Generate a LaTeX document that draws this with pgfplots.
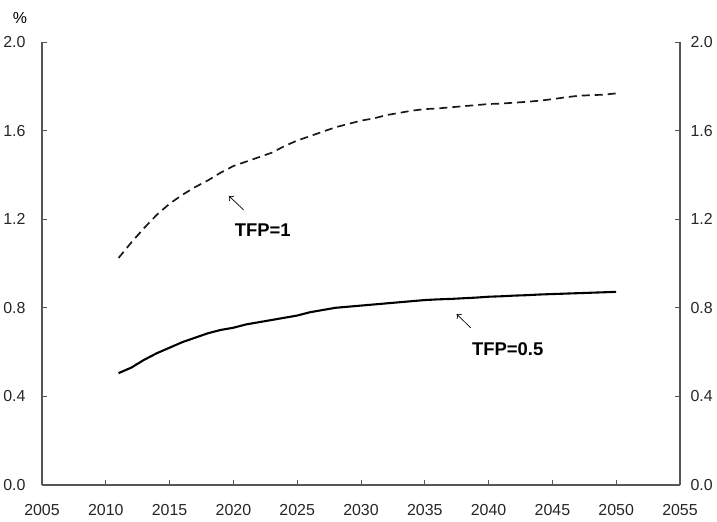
\documentclass[border=0pt]{standalone}
\usepackage{fontspec}
\setmainfont{Liberation Sans}
\usepackage{pgfplots}
\pgfplotsset{compat=1.18}
\usetikzlibrary{arrows.meta}
\definecolor{axgray}{RGB}{85,85,85}
\begin{document}
\begin{tikzpicture}
\path[use as bounding box] (-42bp,-37bp) rectangle (675bp,485bp);
\pgfplotsset{
  common/.style={
    width=638bp, height=443bp, scale only axis,
    xmin=2005, xmax=2055, ymin=0, ymax=2,
    ytick={0,0.4,0.8,1.2,1.6,2.0},
    tick align=inside, major tick length=5bp,
    axis line style={axgray, line width=1.3pt},
    tick style={axgray, line width=0.8pt},
    /pgf/number format/assume math mode=true,
    yticklabel={\pgfmathprintnumber[fixed,fixed zerofill,precision=1]{\tick}},
    tick label style={font=\fontsize{16}{18}\selectfont, text=black!85},
  }
}
\begin{axis}[common,
  axis x line*=bottom, axis y line*=left,
  xtick={2005,2010,...,2055},
  xticklabel={\pgfmathprintnumber[1000 sep={}]{\tick}},
  xticklabel style={yshift=-16bp},
  yticklabel style={xshift=-13bp},
  clip=false]
\addplot[black!90, line width=1.7pt, dash pattern=on 8bp off 5bp] coordinates {
(2011,1.025)(2012,1.095)(2013,1.16)(2014,1.22)(2015,1.27)(2016,1.31)(2017,1.345)(2018,1.375)(2019,1.41)(2020,1.44)
(2021,1.46)(2022,1.48)(2023,1.50)(2024,1.53)(2025,1.555)(2026,1.575)(2027,1.595)(2028,1.615)(2029,1.63)(2030,1.645)
(2031,1.655)(2032,1.67)(2033,1.68)(2034,1.69)(2035,1.697)(2036,1.70)(2037,1.705)(2038,1.71)(2039,1.715)(2040,1.72)
(2041,1.722)(2042,1.726)(2043,1.73)(2044,1.735)(2045,1.742)(2046,1.75)(2047,1.757)(2048,1.76)(2049,1.762)(2050,1.768)};
\addplot[black, line width=2.1pt] coordinates {
(2011,0.505)(2012,0.53)(2013,0.565)(2014,0.595)(2015,0.62)(2016,0.645)(2017,0.665)(2018,0.685)(2019,0.70)(2020,0.71)
(2021,0.725)(2022,0.735)(2023,0.745)(2024,0.755)(2025,0.765)(2026,0.78)(2027,0.79)(2028,0.80)(2029,0.805)(2030,0.81)
(2031,0.815)(2032,0.82)(2033,0.825)(2034,0.83)(2035,0.835)(2036,0.838)(2037,0.84)(2038,0.843)(2039,0.846)(2040,0.85)
(2041,0.852)(2042,0.855)(2043,0.857)(2044,0.86)(2045,0.862)(2046,0.864)(2047,0.866)(2048,0.868)(2049,0.87)(2050,0.872)};
\node[font=\fontsize{18.5}{20}\selectfont\bfseries] at (axis cs:2022.3,1.151) {TFP=1};
\draw[-{To[length=4bp,width=7bp]}, line width=0.7pt] (axis cs:2020.8,1.242) -- (axis cs:2019.65,1.305);
\node[font=\fontsize{18.5}{20}\selectfont\bfseries] at (axis cs:2041.5,0.614) {TFP=0.5};
\draw[-{To[length=4bp,width=7bp]}, line width=0.7pt] (axis cs:2038.6,0.709) -- (axis cs:2037.5,0.772);
\node[font=\fontsize{16}{18}\selectfont] at ([xshift=-22bp,yshift=24bp]rel axis cs:0,1) {\%};
\end{axis}
\begin{axis}[common,
  axis x line=none, axis y line*=right,
  yticklabel style={xshift=7bp}]
\end{axis}
\end{tikzpicture}
\end{document}
